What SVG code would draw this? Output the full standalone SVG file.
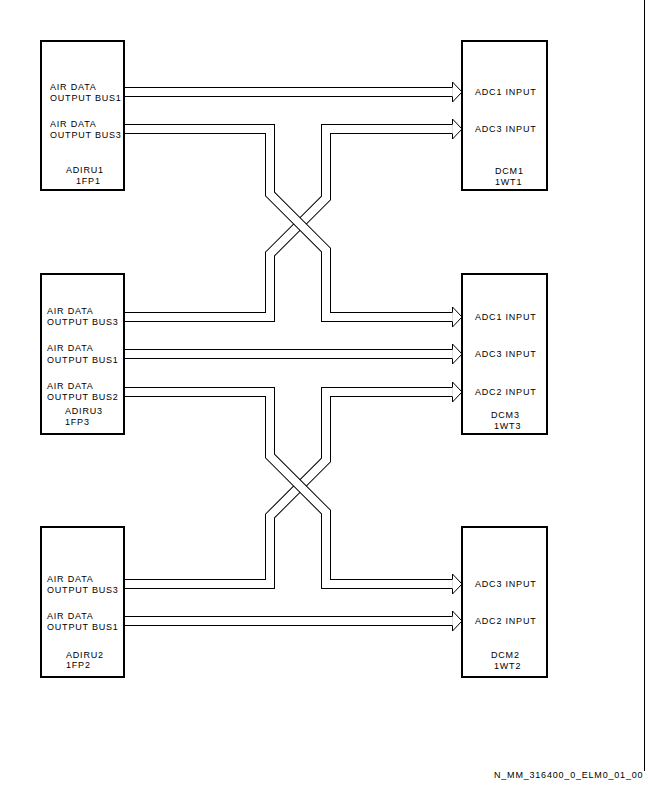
<svg xmlns="http://www.w3.org/2000/svg" xmlns:xlink="http://www.w3.org/1999/xlink" width="648" height="792" viewBox="0 0 648 792">
<style>
.box{fill:#fff;stroke:#000;stroke-width:2}
.t{font-family:"Liberation Sans",Arial,sans-serif;font-size:9px;letter-spacing:0.8px;fill:#000}
.bo{fill:none;stroke:#000;stroke-width:10;stroke-linejoin:miter}
.bi{fill:none;stroke:#fff;stroke-width:8;stroke-linejoin:miter}
.ah{fill:#fff;stroke:#000;stroke-width:1}
</style>
<defs>
<path id="ah" d="M0,-4.5 V-10 L9.5,0 L0,10 V4.5"/>
</defs>
<rect width="648" height="792" fill="#fff"/>
<line x1="644.5" y1="0" x2="644.5" y2="771" stroke="#000" stroke-width="1"/>

<g id="adiru1">
<rect class="box" x="41" y="41" width="83" height="149"/>
<text class="t" x="50" y="90">AIR DATA</text>
<text class="t" x="50" y="101">OUTPUT BUS1</text>
<text class="t" x="50" y="127">AIR DATA</text>
<text class="t" x="50" y="138">OUTPUT BUS3</text>
<text class="t" x="66" y="173">ADIRU1</text>
<text class="t" x="76" y="184">1FP1</text>
</g>
<g id="dcm1">
<rect class="box" x="462" y="41" width="85" height="149"/>
<text class="t" x="475" y="95">ADC1 INPUT</text>
<text class="t" x="475" y="132">ADC3 INPUT</text>
<text class="t" x="495" y="174">DCM1</text>
<text class="t" x="495" y="185">1WT1</text>
</g>
<g id="adiru3">
<rect class="box" x="41" y="274" width="83" height="160"/>
<text class="t" x="47" y="314">AIR DATA</text>
<text class="t" x="47" y="325">OUTPUT BUS3</text>
<text class="t" x="47" y="351">AIR DATA</text>
<text class="t" x="47" y="363">OUTPUT BUS1</text>
<text class="t" x="47" y="389">AIR DATA</text>
<text class="t" x="47" y="400">OUTPUT BUS2</text>
<text class="t" x="65" y="414">ADIRU3</text>
<text class="t" x="65" y="425">1FP3</text>
</g>
<g id="dcm3">
<rect class="box" x="462" y="274" width="85" height="160"/>
<text class="t" x="475" y="320">ADC1 INPUT</text>
<text class="t" x="475" y="357">ADC3 INPUT</text>
<text class="t" x="475" y="395">ADC2 INPUT</text>
<text class="t" x="491" y="418">DCM3</text>
<text class="t" x="494" y="429">1WT3</text>
</g>
<g id="adiru2">
<rect class="box" x="41" y="527" width="83" height="150"/>
<text class="t" x="47" y="582">AIR DATA</text>
<text class="t" x="47" y="593">OUTPUT BUS3</text>
<text class="t" x="47" y="619">AIR DATA</text>
<text class="t" x="47" y="630">OUTPUT BUS1</text>
<text class="t" x="66" y="658">ADIRU2</text>
<text class="t" x="66" y="668">1FP2</text>
</g>
<g id="dcm2">
<rect class="box" x="462" y="527" width="85" height="150"/>
<text class="t" x="475" y="587">ADC3 INPUT</text>
<text class="t" x="475" y="624">ADC2 INPUT</text>
<text class="t" x="491" y="658">DCM2</text>
<text class="t" x="494" y="669">1WT2</text>
</g>

<g id="connectors">
<path class="bo" d="M125,92 H452.5"/><path class="bi" d="M125,92 H452.5"/>
<path class="bo" d="M125,354 H452.5"/><path class="bi" d="M125,354 H452.5"/>
<path class="bo" d="M125,621 H452.5"/><path class="bi" d="M125,621 H452.5"/>
<path class="bo" d="M125,317 H270 V254 L326,198 V129 H452.5"/><path class="bi" d="M125,317 H270 V254 L326,198 V129 H452.5"/>
<path class="bo" d="M125,129 H270 V194 L326,250 V317 H452.5"/><path class="bi" d="M125,129 H270 V194 L326,250 V317 H452.5"/>
<path class="bo" d="M125,584 H270 V516 L326,460 V392 H452.5"/><path class="bi" d="M125,584 H270 V516 L326,460 V392 H452.5"/>
<path class="bo" d="M125,392 H270 V456 L326,512 V584 H452.5"/><path class="bi" d="M125,392 H270 V456 L326,512 V584 H452.5"/>
<use xlink:href="#ah" class="ah" transform="translate(452.5,92)"/>
<use xlink:href="#ah" class="ah" transform="translate(452.5,129)"/>
<use xlink:href="#ah" class="ah" transform="translate(452.5,317)"/>
<use xlink:href="#ah" class="ah" transform="translate(452.5,354)"/>
<use xlink:href="#ah" class="ah" transform="translate(452.5,392)"/>
<use xlink:href="#ah" class="ah" transform="translate(452.5,584)"/>
<use xlink:href="#ah" class="ah" transform="translate(452.5,621)"/>
</g>

<text class="t" x="494" y="778">N_MM_316400_0_ELM0_01_00</text>
</svg>
